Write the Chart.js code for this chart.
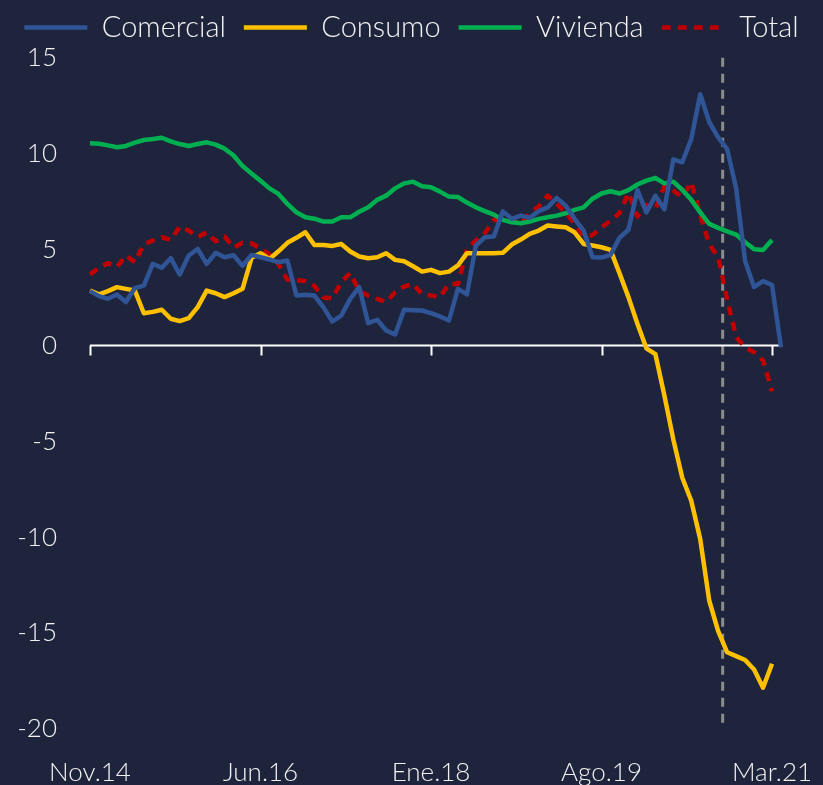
<!DOCTYPE html>
<html>
<head>
<meta charset="utf-8">
<script src="https://cdn.jsdelivr.net/npm/chart.js@4.4.1/dist/chart.umd.min.js"></script>
<style>
  html, body { margin: 0; padding: 0; background: #1f243d; }
  #grafico { display: block; }
</style>
</head>
<body>
<canvas id="grafico" width="823" height="785"></canvas>
<script>
// meses: nov.14 a abr.21
const nombresMes = ['Ene', 'Feb', 'Mar', 'Abr', 'May', 'Jun', 'Jul', 'Ago', 'Sep', 'Oct', 'Nov', 'Dic'];
const fechas = [];
for (let k = 0; k < 78; k++) {
  const m = (10 + k) % 12;
  const a = 14 + Math.floor((10 + k) / 12);
  fechas.push(nombresMes[m] + '.' + a);
}
const pasoEtiquetas = 19;
const valoresEjeY = [15, 10, 5, 0, -5, -10, -15, -20];

const comercial = [
  2.83, 2.57, 2.43, 2.66, 2.26, 2.99, 3.12, 4.25, 4.05, 4.55,
  3.70, 4.69, 5.03, 4.25, 4.83, 4.60, 4.70, 4.15, 4.72, 4.60,
  4.48, 4.34, 4.43, 2.60, 2.64, 2.60, 2.00, 1.25, 1.56, 2.43,
  3.04, 1.16, 1.34, 0.78, 0.57, 1.86, 1.84, 1.82, 1.68, 1.51,
  1.30, 2.95, 2.66, 5.21, 5.64, 5.68, 6.99, 6.60, 6.77, 6.65,
  7.00, 7.20, 7.69, 7.29, 6.60, 5.99, 4.60, 4.58, 4.72, 5.61,
  6.03, 8.11, 6.94, 7.80, 7.10, 9.70, 9.55, 10.76, 13.10, 11.65,
  10.85, 10.24, 8.20, 4.40, 3.05, 3.35, 3.15, -0.10
];

const consumo = [
  2.86, 2.66, 2.83, 3.04, 2.95, 2.86, 1.68, 1.75, 1.86, 1.39,
  1.27, 1.42, 2.00, 2.86, 2.72, 2.52, 2.72, 2.95, 4.57, 4.81,
  4.51, 4.91, 5.35, 5.61, 5.90, 5.24, 5.24, 5.19, 5.29, 4.90,
  4.64, 4.55, 4.60, 4.81, 4.46, 4.39, 4.13, 3.85, 3.94, 3.77,
  3.85, 4.17, 4.81, 4.81, 4.81, 4.81, 4.83, 5.26, 5.52, 5.82,
  5.99, 6.25, 6.20, 6.16, 5.90, 5.29, 5.21, 5.12, 4.98, 3.77,
  2.52, 1.13, -0.15, -0.45, -2.60, -4.90, -6.90, -8.10, -10.10, -13.30,
  -14.90, -16.00, -16.20, -16.40, -16.90, -17.85, -16.60
];

const vivienda = [
  10.54, 10.52, 10.43, 10.33, 10.40, 10.57, 10.71, 10.76, 10.83, 10.64,
  10.50, 10.40, 10.50, 10.59, 10.47, 10.26, 9.90, 9.35, 8.97, 8.59,
  8.19, 7.90, 7.38, 6.94, 6.68, 6.61, 6.46, 6.46, 6.68, 6.68,
  6.97, 7.20, 7.59, 7.81, 8.19, 8.45, 8.54, 8.30, 8.25, 8.02,
  7.76, 7.74, 7.45, 7.20, 7.00, 6.82, 6.55, 6.42, 6.37, 6.46,
  6.60, 6.68, 6.77, 6.89, 7.07, 7.20, 7.65, 7.92, 8.04, 7.92,
  8.10, 8.39, 8.59, 8.73, 8.45, 8.54, 8.11, 7.59, 6.94, 6.34,
  6.13, 5.95, 5.78, 5.38, 5.02, 4.98, 5.50
];

const total = [
  3.70, 4.05, 4.29, 4.08, 4.69, 4.34, 5.29, 5.47, 5.64, 5.50,
  6.20, 5.99, 5.64, 5.90, 5.43, 5.68, 5.10, 5.35, 5.33, 5.05,
  4.75, 4.25, 3.42, 3.42, 3.35, 3.10, 2.50, 2.45, 3.30, 3.78,
  2.82, 2.60, 2.43, 2.25, 2.78, 3.07, 3.21, 2.66, 2.60, 2.52,
  3.21, 3.20, 5.00, 5.47, 5.85, 6.55, 6.47, 6.51, 6.37, 6.89,
  7.26, 7.81, 7.38, 6.94, 6.34, 5.70, 5.75, 6.16, 6.50, 6.90,
  7.95, 6.72, 7.33, 7.10, 8.30, 8.07, 7.73, 8.51, 6.80, 5.29,
  4.60, 2.40, 0.43, -0.10, -0.35, -0.78, -2.40
];

// posicion de la linea vertical punteada (entre sep.20 y oct.20)
const marcaVertical = 70.5;

const fuente = 'Lato';
const colorTexto = '#f2f2f2';

const ejeCero = {
  id: 'ejeCero',
  beforeDatasetsDraw(chart) {
    const { ctx, scales: { x, y } } = chart;
    const y0 = y.getPixelForValue(0);
    ctx.save();
    // linea vertical gris
    const xv = x.getPixelForValue(marcaVertical);
    ctx.strokeStyle = '#8c8c8c';
    ctx.lineWidth = 3;
    ctx.setLineDash([9, 7]);
    ctx.beginPath();
    ctx.moveTo(xv, y.getPixelForValue(15));
    ctx.lineTo(xv, y.getPixelForValue(-20));
    ctx.stroke();
    // eje en cero con marcas
    ctx.setLineDash([]);
    ctx.strokeStyle = '#ffffff';
    ctx.lineWidth = 2;
    ctx.beginPath();
    ctx.moveTo(x.getPixelForValue(0), y0);
    ctx.lineTo(x.getPixelForValue(fechas.length - 1), y0);
    for (let i = 0; i < fechas.length; i += pasoEtiquetas) {
      const xt = Math.round(x.getPixelForValue(i)) + 0.5;
      ctx.moveTo(xt, y0);
      ctx.lineTo(xt, y0 + 10);
    }
    ctx.stroke();
    ctx.restore();
  }
};

const ctx = document.getElementById('grafico');

new Chart(ctx, {
  type: 'line',
  data: {
    labels: fechas,
    datasets: [
      { label: 'Comercial', data: comercial, borderColor: '#2f5597', backgroundColor: '#2f5597' },
      { label: 'Consumo', data: consumo, borderColor: '#ffc000', backgroundColor: '#ffc000' },
      { label: 'Vivienda', data: vivienda, borderColor: '#00b050', backgroundColor: '#00b050' },
      { label: 'Total', data: total, borderColor: '#c00000', backgroundColor: '#c00000', borderDash: [9, 7] }
    ]
  },
  options: {
    responsive: false,
    animation: false,
    layout: { padding: { top: -5, right: 0, left: 0, bottom: 0 } },
    elements: {
      line: { borderWidth: 4.5, tension: 0, borderJoinStyle: 'round' },
      point: { radius: 0 }
    },
    plugins: {
      legend: {
        position: 'top',
        align: 'center',
        labels: {
          color: colorTexto,
          font: { family: fuente, size: 29, weight: '300' },
          usePointStyle: true,
          pointStyle: 'line',
          pointStyleWidth: 63,
          boxWidth: 63,
          padding: 18,
          generateLabels(chart) {
            const items = Chart.defaults.plugins.legend.labels.generateLabels(chart);
            items.forEach((it) => {
              const ds = chart.data.datasets[it.datasetIndex];
              it.lineWidth = 4.5;
              it.strokeStyle = ds.borderColor;
              it.lineDash = ds.borderDash || [];
            });
            return items;
          }
        }
      },
      tooltip: { enabled: false }
    },
    scales: {
      x: {
        grid: { display: false, drawTicks: false },
        border: { display: false },
        ticks: {
          color: colorTexto,
          font: { family: fuente, size: 26, weight: '300' },
          autoSkip: false,
          maxRotation: 0,
          padding: 28,
          callback: (v, i) => (i % pasoEtiquetas === 0 ? fechas[i] : '')
        },
        afterFit(scale) { scale.height = 56; }
      },
      y: {
        min: -20,
        max: 15.3,
        grid: { display: false, drawTicks: false },
        border: { display: false },
        ticks: {
          color: colorTexto,
          font: { family: fuente, size: 26, weight: '300' },
          padding: 33
        },
        afterBuildTicks(scale) { scale.ticks = valoresEjeY.map(v => ({ value: v })); },
        afterFit(scale) { scale.width = 90; }
      },
      yDer: {
        position: 'right',
        display: true,
        grid: { display: false, drawTicks: false },
        border: { display: false },
        ticks: { display: false },
        afterFit(scale) { scale.width = 42; }
      }
    }
  },
  plugins: [ejeCero]
});
</script>
</body>
</html>
